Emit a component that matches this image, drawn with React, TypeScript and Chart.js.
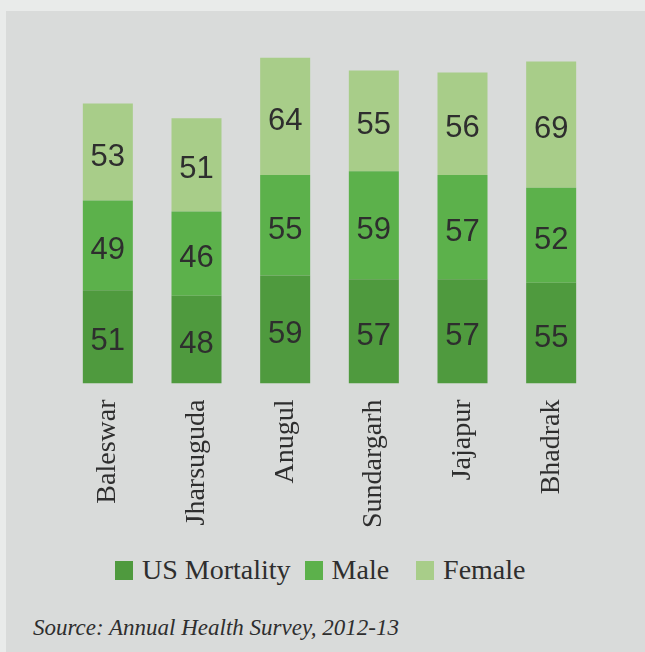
import React, { useEffect, useRef } from "react";
import { Chart, registerables } from "chart.js";

Chart.register(...registerables);

const districts = ["Baleswar", "Jharsuguda", "Anugul", "Sundargarh", "Jajapur", "Bhadrak"];
const usMortality = [51, 48, 59, 57, 57, 55];
const male = [49, 46, 55, 59, 57, 52];
const female = [53, 51, 64, 55, 56, 69];
const seriesNames = ["US Mortality", "Male", "Female"];
const seriesColors = ["#4f9a3e", "#5cb14b", "#a8cd89"];
const sourceText = "Source: Annual Health Survey, 2012-13";

const SERIF = '"Liberation Serif", "Times New Roman", serif';

const valueLabels = {
  id: "valueLabels",
  afterDatasetsDraw(chart: any) {
    const ctx = chart.ctx;
    ctx.save();
    ctx.font = '31px "Liberation Sans", Arial, sans-serif';
    ctx.fillStyle = "#2e2e2e";
    ctx.textAlign = "center";
    ctx.textBaseline = "middle";
    chart.data.datasets.forEach((ds: any, di: number) => {
      const meta = chart.getDatasetMeta(di);
      meta.data.forEach((bar: any, i: number) => {
        const { x, y, base } = bar.getProps(["x", "y", "base"], true);
        ctx.fillText(String(ds.data[i]), x, (y + base) / 2 + 5);
      });
    });
    ctx.restore();
  },
};

export default function App() {
  const ref = useRef<HTMLCanvasElement>(null);
  useEffect(() => {
    document.body.style.margin = "0";
    const chart = new Chart(ref.current!, {
      type: "bar",
      data: {
        labels: districts,
        datasets: [usMortality, male, female].map((d, k) => ({
          label: seriesNames[k],
          data: d,
          backgroundColor: seriesColors[k],
          borderWidth: 0,
          barPercentage: 0.564,
          categoryPercentage: 1,
        })),
      },
      options: {
        animation: false,
        responsive: true,
        maintainAspectRatio: false,
        layout: { padding: { left: 57.5, right: 49.5, top: 6.5, bottom: 0 } },
        scales: {
          x: {
            stacked: true,
            grid: { display: false },
            border: { display: false },
            afterFit: (scale: any) => {
              scale.height = 167.5;
            },
            ticks: {
              minRotation: 90,
              maxRotation: 90,
              padding: 8,
              color: "#2e2e2e",
              font: { family: SERIF, size: 28 },
            },
          },
          y: {
            stacked: true,
            display: false,
            min: 0,
            max: 200,
          },
        },
        plugins: {
          legend: { display: false },
          tooltip: { enabled: false },
        },
      },
      plugins: [valueLabels],
    });
    return () => chart.destroy();
  }, []);

  const legendGaps = [14, 27, 0];

  return (
    <div style={{ position: "absolute", left: 0, top: 0, width: 645, height: 652, background: "#e9ebea" }}>
      <div style={{ position: "absolute", left: 6, top: 11, width: 639, height: 641, background: "#d9dbda" }}>
        <div style={{ position: "absolute", left: 0, top: 0, width: 639, height: 540 }}>
          <canvas ref={ref} />
        </div>
        <div
          style={{
            position: "absolute",
            left: 109,
            top: 540,
            height: 38,
            display: "flex",
            alignItems: "center",
            fontFamily: SERIF,
            fontSize: 28,
            color: "#2e2e2e",
            whiteSpace: "nowrap",
          }}
        >
          {seriesNames.map((n, k) => (
            <div key={n} style={{ display: "flex", alignItems: "center", marginRight: legendGaps[k] }}>
              <span style={{ display: "inline-block", width: 18, height: 19, background: seriesColors[k], marginRight: 9 }} />
              <span>{n}</span>
            </div>
          ))}
        </div>
        <div
          style={{
            position: "absolute",
            left: 27,
            top: 603,
            fontFamily: SERIF,
            fontStyle: "italic",
            fontSize: 23,
            color: "#2e2e2e",
            whiteSpace: "nowrap",
            lineHeight: "28px",
          }}
        >
          {sourceText}
        </div>
      </div>
    </div>
  );
}
